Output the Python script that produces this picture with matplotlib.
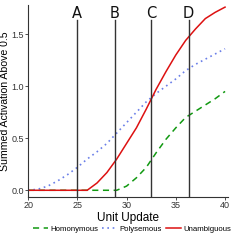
import matplotlib
matplotlib.use("Agg")
import matplotlib.pyplot as plt

plt.rcParams['font.family'] = ['Liberation Sans', 'DejaVu Sans']

x = list(range(20, 41))
homonymous = [0, 0, 0, 0, 0, 0, 0, 0, 0, 0, 0.04, 0.12, 0.22, 0.36, 0.49, 0.60, 0.70, 0.76, 0.82, 0.88, 0.95]
polysemous = [0, 0.01, 0.04, 0.09, 0.15, 0.22, 0.30, 0.37, 0.45, 0.55, 0.65, 0.75, 0.85, 0.93, 1.00, 1.07, 1.15, 1.21, 1.26, 1.31, 1.36]
unambiguous = [0, 0, 0, 0, 0, 0, 0, 0.07, 0.17, 0.30, 0.45, 0.60, 0.78, 0.97, 1.14, 1.30, 1.44, 1.55, 1.65, 1.71, 1.76]
marker_x = [25, 28.8, 32.5, 36.3]
marker_labels = ["A", "B", "C", "D"]
x_ticks = [20, 25, 30, 35, 40]
y_ticks = [0.0, 0.5, 1.0, 1.5]

fig = plt.figure(figsize=(2.4, 2.4), dpi=100)
ax = fig.add_axes([0.117, 0.179, 0.833, 0.80])

ax.plot(x, homonymous, color="#119911", lw=1.1, ls=(0, (4, 3)), label="Homonymous")
ax.plot(x, polysemous, color="#6a7fe8", lw=1.2, ls=(0, (1, 2.2)), label="Polysemous")
ax.plot(x, unambiguous, color="#dd1111", lw=1.1, ls="-", label="Unambiguous")

for mx, ml in zip(marker_x, marker_labels):
    ax.plot([mx, mx], [-0.065, 1.64], color="#333333", lw=1.0)
    ax.text(mx, 1.695, ml, ha="center", va="center", fontsize=10.5, color="#111111",
            family=["DejaVu Sans"])

ax.set_xlim(20, 40.3)
ax.set_ylim(-0.065, 1.78)
ax.set_xticks(x_ticks)
ax.set_xticklabels([str(t) for t in x_ticks])
ax.set_yticks(y_ticks)
ax.set_yticklabels(["%.1f" % t for t in y_ticks])
ax.tick_params(labelsize=6.5, colors="#333333", length=2, width=0.6, pad=1)
for s in ["top", "right"]:
    ax.spines[s].set_visible(False)
for s in ["left", "bottom"]:
    ax.spines[s].set_color("#333333")
    ax.spines[s].set_linewidth(0.8)

ax.set_xlabel("Unit Update", fontsize=8.5, labelpad=1)
ax.set_ylabel("Summed Activation Above 0.5", fontsize=7.6, labelpad=1)

fig.legend(loc="lower center", bbox_to_anchor=(0.55, 0.0), ncol=3, frameon=False,
           fontsize=5.6, handlelength=1.9, columnspacing=0.5, handletextpad=0.35)

fig.savefig("out.png", dpi=100)
